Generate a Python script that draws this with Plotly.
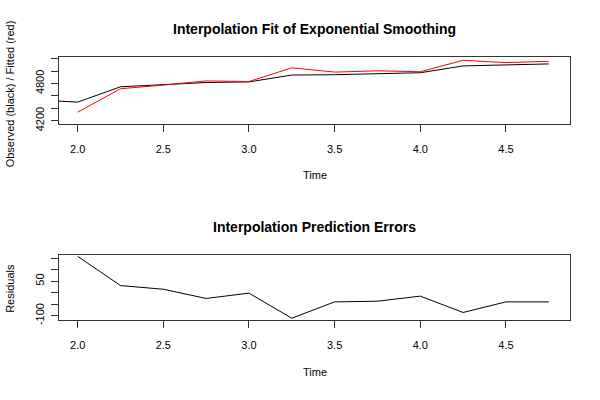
import plotly.graph_objects as go

# Time index (quarterly)
time_obs = [1.75, 2.0, 2.25, 2.5, 2.75, 3.0, 3.25, 3.5, 3.75, 4.0, 4.25, 4.5, 4.75]
observed = [4537, 4500, 4747, 4779, 4816, 4826, 4937, 4942, 4963, 4974, 5084, 5095, 5116]

time_fit = [2.0, 2.25, 2.5, 2.75, 3.0, 3.25, 3.5, 3.75, 4.0, 4.25, 4.5, 4.75]
fitted = [4337, 4716, 4774, 4842, 4832, 5053, 4984, 5005, 4990, 5174, 5137, 5158]

residuals = [158, 31, 15, -25, -2, -111, -40, -37, -15, -86, -40, -40]

x_tickvals = [2.0, 2.5, 3.0, 3.5, 4.0, 4.5]
x_ticktext = ["2.0", "2.5", "3.0", "3.5", "4.0", "4.5"]
y1_tickvals = [4200, 4400, 4600, 4800, 5000, 5200]
y1_ticktext = ["4200", "", "", "4800", "", ""]
y2_tickvals = [-100, -50, 0, 50, 100, 150]
y2_ticktext = ["-100", "", "", "50", "", ""]

FONT = "Liberation Sans, Arial, sans-serif"
W, H = 600, 400

fig = go.Figure()
fig.add_trace(go.Scatter(x=time_obs, y=observed, mode="lines",
                         line=dict(color="black", width=1), xaxis="x", yaxis="y"))
fig.add_trace(go.Scatter(x=time_fit, y=fitted, mode="lines",
                         line=dict(color="red", width=1), xaxis="x", yaxis="y"))
fig.add_trace(go.Scatter(x=time_fit, y=residuals, mode="lines",
                         line=dict(color="black", width=1), xaxis="x2", yaxis="y2"))

xdom = [59 / W, 570 / W]
ydom1 = [(H - 126) / H, (H - 58.5) / H]
ydom2 = [(H - 326) / H, (H - 259.5) / H]

axis_common = dict(showline=True, mirror=True, linecolor="#333", linewidth=1,
                   ticks="outside", ticklen=7, tickcolor="#333", tickwidth=1,
                   showgrid=False, zeroline=False,
                   tickfont=dict(family=FONT, size=11, color="black"))

fig.update_layout(
    width=W, height=H, margin=dict(l=0, r=0, t=0, b=0),
    plot_bgcolor="white", paper_bgcolor="white", showlegend=False,
    xaxis=dict(domain=xdom, range=[1.891, 4.874], tickvals=x_tickvals,
               ticktext=x_ticktext, anchor="y", ticklabelstandoff=8, **axis_common),
    yaxis=dict(domain=ydom1, range=[4150, 5220], tickvals=y1_tickvals,
               ticktext=y1_ticktext, tickangle=-90, anchor="x", ticklabelstandoff=3,
               **axis_common),
    xaxis2=dict(domain=xdom, range=[1.891, 4.874], tickvals=x_tickvals,
                ticktext=x_ticktext, anchor="y2", ticklabelstandoff=8, **axis_common),
    yaxis2=dict(domain=ydom2, range=[-120, 164], tickvals=y2_tickvals,
                ticktext=y2_ticktext, tickangle=-90, anchor="x2", ticklabelstandoff=3,
                **axis_common),
)

def ann(text, x, y, size=11, bold=False, angle=0):
    fig.add_annotation(text=f"<b>{text}</b>" if bold else text,
                       x=x / W, y=1 - y / H, xref="paper", yref="paper",
                       showarrow=False, textangle=angle,
                       font=dict(family=FONT, size=size, color="black"),
                       xanchor="center", yanchor="middle")

ann("Interpolation Fit of Exponential Smoothing", 314.5, 30, size=14, bold=True)
ann("Interpolation Prediction Errors", 314.5, 231, size=14, bold=True)
ann("Time", 314.5, 178)
ann("Time", 314.5, 379)
ann("Observed (black) / Fitted (red)", 10, 96, angle=-90)
ann("Residuals", 10, 294, angle=-90)

fig.write_html("out.html", config={"displayModeBar": False},
               post_script="document.body.style.margin='0';")
